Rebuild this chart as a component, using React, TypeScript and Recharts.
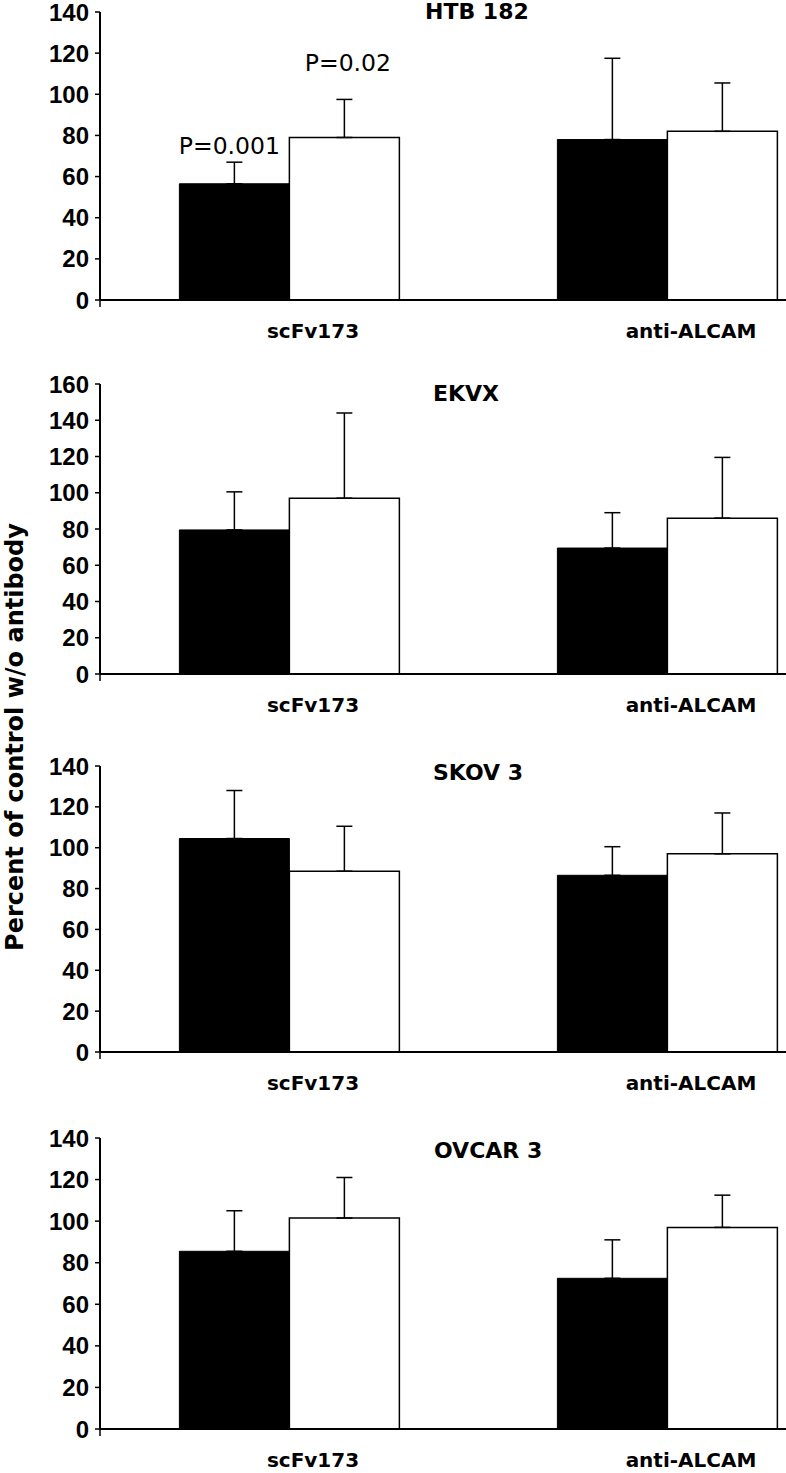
import React from 'react';
import { BarChart, Bar, XAxis, YAxis, ErrorBar } from 'recharts';

// cell lines, one panel each
const cellLines = ['HTB 182', 'EKVX', 'SKOV 3', 'OVCAR 3'];
const categories = ['scFv173', 'anti-ALCAM'];

// filled bars (mean, upper SD) per panel: [scFv173, anti-ALCAM]
const darkMean = [[56.5, 78], [79.5, 69.5], [104.5, 86.5], [85.5, 72.5]];
const darkErr = [[10.5, 39.5], [21, 19.5], [23.5, 14], [19.5, 18.5]];
// open bars
const openMean = [[79, 82], [97, 86], [88.5, 97], [101.5, 97]];
const openErr = [[18.5, 23.5], [47, 33.5], [22, 20], [19.5, 15.5]];

const yMax = [140, 160, 140, 140];
const ticks140 = [0, 20, 40, 60, 80, 100, 120, 140];
const ticks160 = [0, 20, 40, 60, 80, 100, 120, 140, 160];
const yTicks = [ticks140, ticks160, ticks140, ticks140];

// p-value notes above the scFv173 bars of the first panel
const pDark = [['P=0.001', ''], ['', ''], ['', ''], ['', '']];
const pOpen = [['P=0.02', ''], ['', ''], ['', ''], ['', '']];

const yLabel = 'Percent of control w/o antibody';

// layout
const plotTop = [12, 384, 766, 1138];
const plotHeight = [288, 290, 286, 291];
const titleX = [425, 433, 433, 434];
const titleY = [19, 401, 780, 1158];
const MARGIN_TOP = 12;
const CHART_W = 856;

const TICK_FONT = '"Liberation Sans", Arial, sans-serif';
const WIDE_FONT = '"DejaVu Sans", sans-serif';

const pLabel = (texts: string[], lift: number, shift: number) => (props: any) => {
  const { x, y, width, index } = props;
  const t = texts[index];
  if (!t) return null;
  return (
    <text
      x={Number(x) + Number(width) / 2 + shift}
      y={Number(y) - lift}
      textAnchor="middle"
      fontFamily={WIDE_FONT}
      fontSize={23.5}
      fill="#000"
    >
      {t}
    </text>
  );
};

const Panel = ({ p }: { p: number }) => {
  const data = categories.map((c, i) => ({
    name: c,
    dark: darkMean[p][i],
    darkErr: [0, darkErr[p][i]],
    open: openMean[p][i],
    openErr: [0, openErr[p][i]],
  }));
  const h = MARGIN_TOP + plotHeight[p] + 44;
  return (
    <div style={{ position: 'absolute', left: 0, top: plotTop[p] - MARGIN_TOP }}>
      <BarChart
        width={CHART_W}
        height={h}
        data={data}
        margin={{ top: MARGIN_TOP, right: 0, bottom: 0, left: 0 }}
        barCategoryGap="21%"
        barGap={0}
      >
        <XAxis
          xAxisId="cat"
          dataKey="name"
          height={44}
          axisLine={false}
          tickLine={false}
          tickSize={0}
          tickMargin={24}
          tick={{ fill: '#000', fontSize: 20, fontWeight: 'bold', fontFamily: WIDE_FONT, dx: 24 }}
        />
        {/* axis line with ticks at the category boundaries */}
        <XAxis
          xAxisId="edges"
          type="number"
          domain={[0, 2]}
          ticks={[0, 1, 2]}
          allowDataOverflow
          mirror
          height={10}
          tickFormatter={() => ''}
          tickSize={-7}
          axisLine={{ stroke: '#000', strokeWidth: 2 }}
          tickLine={{ stroke: '#000', strokeWidth: 1.5 }}
        />
        <YAxis
          width={100}
          domain={[0, yMax[p]]}
          ticks={yTicks[p]}
          interval={0}
          allowDataOverflow
          tickSize={5}
          tickMargin={6}
          axisLine={{ stroke: '#000', strokeWidth: 2 }}
          tickLine={{ stroke: '#000', strokeWidth: 1.5 }}
          tick={{ fill: '#000', fontSize: 24, fontWeight: 'bold', fontFamily: TICK_FONT }}
        />
        <Bar
          xAxisId="cat"
          dataKey="dark"
          fill="#000"
          stroke="#000"
          strokeWidth={1}
          isAnimationActive={false}
          label={pLabel(pDark[p], 30, -5)}
        >
          <ErrorBar dataKey="darkErr" direction="y" width={8} stroke="#000" strokeWidth={1.5} isAnimationActive={false} />
        </Bar>
        <Bar
          xAxisId="cat"
          dataKey="open"
          fill="#fff"
          stroke="#000"
          strokeWidth={1.5}
          isAnimationActive={false}
          label={pLabel(pOpen[p], 66, 3.5)}
        >
          <ErrorBar dataKey="openErr" direction="y" width={8} stroke="#000" strokeWidth={1.5} isAnimationActive={false} />
        </Bar>
      </BarChart>
    </div>
  );
};

export default function App() {
  return (
    <div style={{ position: 'absolute', left: 0, top: 0, width: 786, height: 1473, overflow: 'hidden', background: '#fff' }}>
      {cellLines.map((_, p) => (
        <Panel key={p} p={p} />
      ))}
      <svg width={786} height={1473} style={{ position: 'absolute', left: 0, top: 0, pointerEvents: 'none' }}>
        {cellLines.map((name, p) => (
          <text key={name} x={titleX[p]} y={titleY[p]} fontFamily={WIDE_FONT} fontWeight="bold" fontSize={22} fill="#000">
            {name}
          </text>
        ))}
        <text
          x={23}
          y={737}
          transform="rotate(-90 23 737)"
          textAnchor="middle"
          fontFamily={WIDE_FONT}
          fontWeight="bold"
          fontSize={24}
          fill="#000"
        >
          {yLabel}
        </text>
      </svg>
    </div>
  );
}
